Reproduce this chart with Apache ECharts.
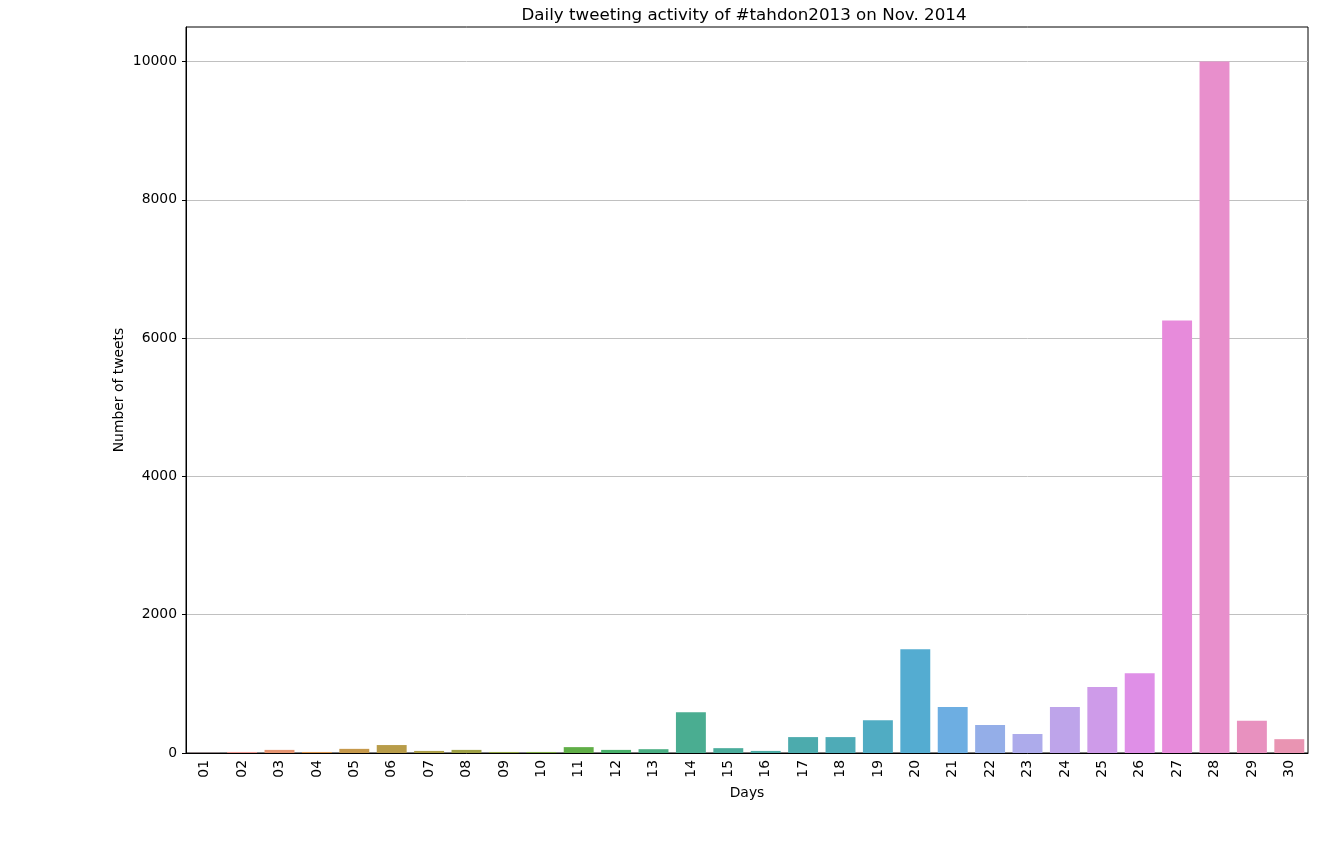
<!DOCTYPE html>
<html>
<head>
<meta charset="utf-8">
<script src="https://cdn.jsdelivr.net/npm/echarts@6/dist/echarts.min.js"></script>
<style>html,body{margin:0;padding:0;background:#fff}#c{width:1341px;height:857px}</style>
</head>
<body>
<div id="c"></div>
<script>
const days = ['01','02','03','04','05','06','07','08','09','10','11','12','13','14','15','16','17','18','19','20','21','22','23','24','25','26','27','28','29','30'];
const tweets = [2,15,45,15,60,115,30,45,15,15,85,45,55,590,70,30,230,230,475,1500,665,405,275,665,955,1155,6255,10000,465,200];
const yTicks = [0,2000,4000,6000,8000,10000];

// seaborn husl palette (HUSL -> RGB, l=.7 as in categorical plots), then desaturated 0.75
const M = [[3.2406,-1.5372,-0.4986],[-0.9689,1.8758,0.0415],[0.0557,-0.2040,1.0570]];
const refY=1.0, refU=0.19784, refV=0.46834, labE=0.008856, labK=903.3;
function maxChroma(L,H){
  const hr=H/360*2*Math.PI, sH=Math.sin(hr), cH=Math.cos(hr);
  const s1=Math.pow(L+16,3)/1560896; const s2 = s1>labE? s1 : L/labK;
  let res=Infinity;
  for(const [m1,m2,m3] of M){
    const top=(0.99915*m1+1.05122*m2+1.14460*m3)*s2;
    const rb=0.86330*m3-0.17266*m2, lb=0.12949*m3-0.38848*m1;
    const bottom=(rb*sH+lb*cH)*s2;
    for(const t of [0,1]){
      const C=L*(top-1.05122*t)/(bottom+0.17266*sH*t);
      if(C>0 && C<res) res=C;
    }
  }
  return res;
}
function huslToRgb(h,s,l){
  const C=maxChroma(l,h)/100*s;
  const hr=h/360*2*Math.PI; const U=C*Math.cos(hr), V=C*Math.sin(hr);
  const Y = l>8 ? refY*Math.pow((l+16)/116,3) : refY*l/labK;
  const vU=U/(13*l)+refU, vV=V/(13*l)+refV;
  const X=-(9*Y*vU)/((vU-4)*vV-vU*vV);
  const Z=(9*Y-15*vV*Y-vV*X)/(3*vV);
  return M.map(r=>{const c=r[0]*X+r[1]*Y+r[2]*Z; const v= c<=0.0031308?12.92*c:1.055*Math.pow(c,1/2.4)-0.055; return Math.min(1,Math.max(0,v));});
}
function rgbToHls(r,g,b){
  const mx=Math.max(r,g,b), mn=Math.min(r,g,b); const l=(mx+mn)/2;
  if(mx===mn) return [0,l,0];
  const s = l<=0.5 ? (mx-mn)/(mx+mn) : (mx-mn)/(2-mx-mn);
  const rc=(mx-r)/(mx-mn), gc=(mx-g)/(mx-mn), bc=(mx-b)/(mx-mn);
  let h; if(r===mx) h=bc-gc; else if(g===mx) h=2+rc-bc; else h=4+gc-rc;
  h=((h/6)%1+1)%1; return [h,l,s];
}
function v_(m1,m2,h){h=((h%1)+1)%1; if(h<1/6) return m1+(m2-m1)*h*6; if(h<0.5) return m2; if(h<2/3) return m1+(m2-m1)*(2/3-h)*6; return m1;}
function hlsToRgb(h,l,s){ if(s===0) return [l,l,l]; const m2 = l<=0.5? l*(1+s) : l+s-l*s; const m1=2*l-m2; return [v_(m1,m2,h+1/3),v_(m1,m2,h),v_(m1,m2,h-1/3)]; }
function palette(n){
  const out=[];
  for(let i=0;i<n;i++){
    let h=(i/n+0.01)%1; h*=359;
    const rgb=huslToRgb(h,0.9*99,0.7*99);
    const [hh,ll,ss]=rgbToHls(...rgb);
    const c=hlsToRgb(hh,ll,ss*0.75);
    out.push('rgb('+c.map(x=>Math.round(x*255)).join(',')+')');
  }
  return out;
}
const colors = palette(days.length);

const chart = echarts.init(document.getElementById('c'));
const font = 'DejaVu Sans';
chart.setOption({
  animation:false,
  title:{text:'Daily tweeting activity of #tahdon2013 on Nov. 2014', left:739, textAlign:'center', top:2,
    textStyle:{fontFamily:font, fontSize:16.7, fontWeight:'normal', color:'#000'}},
  grid:{left:186, right:33, top:27, bottom:104, show:true, borderColor:'#000', borderWidth:1, backgroundColor:'transparent'},
  xAxis:{type:'category', data:days, name:'Days', nameLocation:'middle', nameGap:33,
    nameTextStyle:{fontFamily:font, fontSize:13.9, color:'#000'},
    axisLine:{lineStyle:{color:'#000'}},
    axisTick:{alignWithLabel:true, length:4, lineStyle:{color:'#000'}},
    axisLabel:{rotate:90, fontFamily:font, fontSize:13.9, color:'#000', margin:7, interval:0}},
  yAxis:{type:'value', min:0, max:10500, interval:2000, name:'Number of tweets', nameLocation:'middle', nameGap:60,
    nameMoveOverlap:false,
    nameTextStyle:{fontFamily:font, fontSize:13.9, color:'#000'},
    axisLine:{show:true, lineStyle:{color:'#000'}},
    axisTick:{show:true, length:4, lineStyle:{color:'#000'}, customValues:yTicks},
    axisLabel:{fontFamily:font, fontSize:13.9, color:'#000', margin:9, customValues:yTicks, formatter:v=>String(v)},
    splitLine:{show:true, lineStyle:{color:'#c0c0c0', width:1}}},
  series:[{type:'bar', barCategoryGap:'20%',
    data: tweets.map((v,i)=>({value:v, itemStyle:{color:colors[i]}}))}]
});
</script>
</body>
</html>
